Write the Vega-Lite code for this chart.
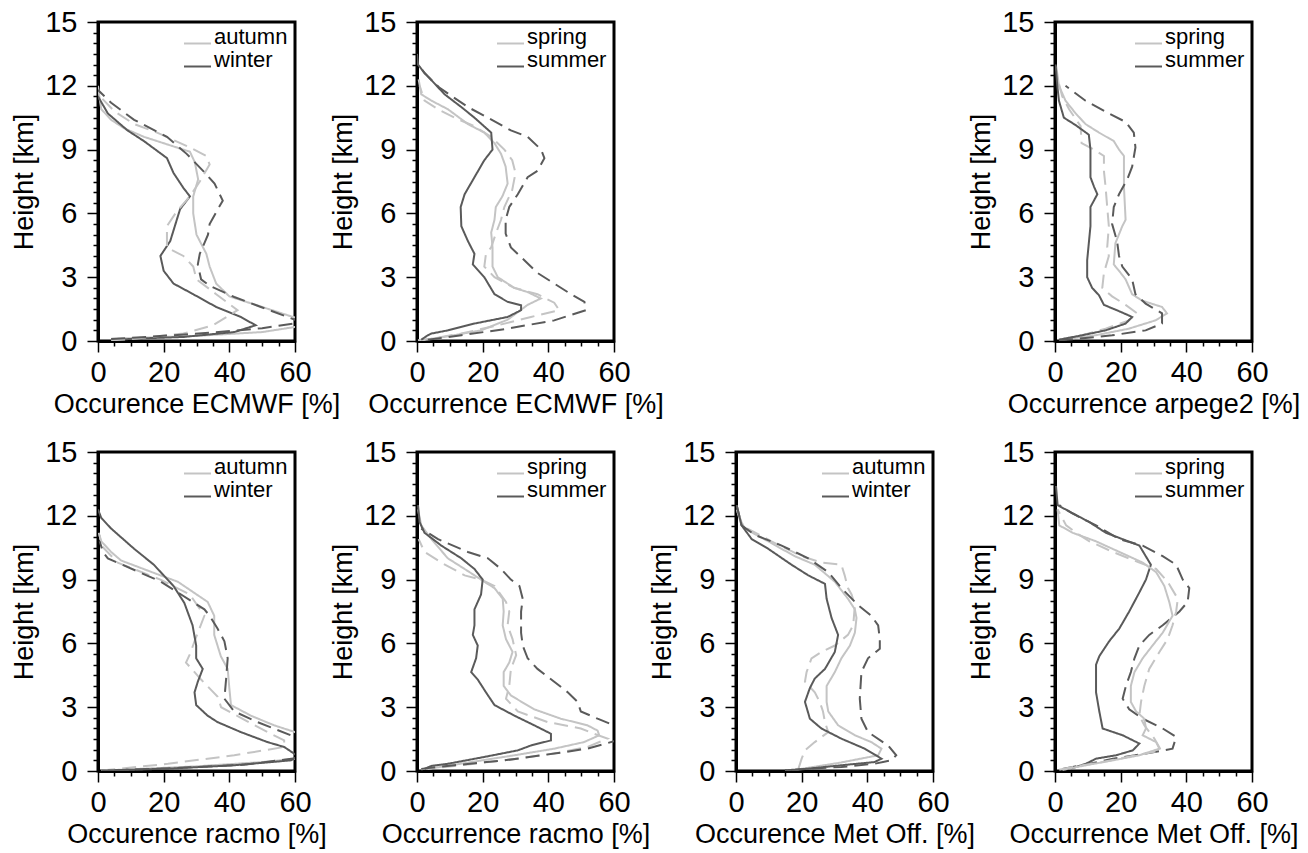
{
"$schema":"https://vega.github.io/schema/vega-lite/v6.json",
"background":"white",
"padding":{"left":9,"top":6,"right":0,"bottom":0},
"columns":4,
"bounds":"flush",
"spacing":{"row":111,"column":122},
"resolve":{"scale":{"color":"independent","strokeDash":"independent"},"legend":{"color":"independent"}},
"config":{
 "view":{"stroke":"black","strokeWidth":3},
 "axis":{"domainColor":"black","domainWidth":3,"tickColor":"black","tickWidth":1.5,"labelFont":"Liberation Sans","labelFontSize":29,"labelColor":"black","titleFont":"Liberation Sans","titleFontSize":27,"titleFontWeight":"normal","titleColor":"black","grid":false,"labelOverlap":false,"labelFlush":false,"format":"d"},
 "axisX":{"titlePadding":4,"labelPadding":6},
 "axisY":{"titlePadding":6,"labelPadding":10},
 "legend":{"orient":"top-right","offset":7,"padding":0,"title":null,"symbolType":"stroke","symbolSize":729,"symbolStrokeWidth":2,"labelFontSize":22,"labelFont":"Liberation Sans","labelColor":"black","labelOffset":2,"rowPadding":0,"labelBaseline":"alphabetic"}
},
"concat":[
{"width":197,"height":319,"data":{"name":"p1"},"mark":{"type":"line","clip":true,"strokeWidth":2},
 "encoding":{
  "x":{"field":"occ","type":"quantitative","scale":{"domain":[0,60],"nice":false,"zero":false},"axis":{"title":"Occurence ECMWF [%]","values":[0,5,10,15,20,25,30,35,40,45,50,55,60],"labelExpr":"datum.value % 20 === 0 ? datum.label : ''","tickSize":{"condition":{"test":"datum.value % 20 === 0","value":11},"value":5}}},
  "y":{"field":"km","type":"quantitative","scale":{"domain":[0,15],"nice":false,"zero":false},"axis":{"title":"Height [km]","values":[0,0.5,1,1.5,2,2.5,3,3.5,4,4.5,5,5.5,6,6.5,7,7.5,8,8.5,9,9.5,10,10.5,11,11.5,12,12.5,13,13.5,14,14.5,15],"labelExpr":"datum.value % 3 === 0 ? datum.label : ''","tickSize":{"condition":{"test":"datum.value % 3 === 0","value":11},"value":5}}},
  "color":{"field":"season","type":"nominal","scale":{"domain":["autumn","winter"],"range":["#c4c4c4","#5a5a5a"]}},
  "strokeDash":{"field":"source","type":"nominal","scale":{"domain":["model","obs"],"range":[[1,0],[14,7]]},"legend":null},
  "order":{"field":"km","type":"quantitative"}}},
{"width":197,"height":319,"data":{"name":"p2"},"mark":{"type":"line","clip":true,"strokeWidth":2},
 "encoding":{
  "x":{"field":"occ","type":"quantitative","scale":{"domain":[0,60],"nice":false,"zero":false},"axis":{"title":"Occurrence ECMWF [%]","values":[0,5,10,15,20,25,30,35,40,45,50,55,60],"labelExpr":"datum.value % 20 === 0 ? datum.label : ''","tickSize":{"condition":{"test":"datum.value % 20 === 0","value":11},"value":5}}},
  "y":{"field":"km","type":"quantitative","scale":{"domain":[0,15],"nice":false,"zero":false},"axis":{"title":"Height [km]","values":[0,0.5,1,1.5,2,2.5,3,3.5,4,4.5,5,5.5,6,6.5,7,7.5,8,8.5,9,9.5,10,10.5,11,11.5,12,12.5,13,13.5,14,14.5,15],"labelExpr":"datum.value % 3 === 0 ? datum.label : ''","tickSize":{"condition":{"test":"datum.value % 3 === 0","value":11},"value":5}}},
  "color":{"field":"season","type":"nominal","scale":{"domain":["spring","summer"],"range":["#c4c4c4","#5a5a5a"]}},
  "strokeDash":{"field":"source","type":"nominal","scale":{"domain":["model","obs"],"range":[[1,0],[14,7]]},"legend":null},
  "order":{"field":"km","type":"quantitative"}}},
{"width":197,"height":319,"data":{"values":[{"a":1}]},"mark":{"type":"point","opacity":0},"encoding":{},"view":{"stroke":null}},
{"width":197,"height":319,"data":{"name":"p4"},"mark":{"type":"line","clip":true,"strokeWidth":2},
 "encoding":{
  "x":{"field":"occ","type":"quantitative","scale":{"domain":[0,60],"nice":false,"zero":false},"axis":{"title":"Occurrence arpege2 [%]","values":[0,5,10,15,20,25,30,35,40,45,50,55,60],"labelExpr":"datum.value % 20 === 0 ? datum.label : ''","tickSize":{"condition":{"test":"datum.value % 20 === 0","value":11},"value":5}}},
  "y":{"field":"km","type":"quantitative","scale":{"domain":[0,15],"nice":false,"zero":false},"axis":{"title":"Height [km]","values":[0,0.5,1,1.5,2,2.5,3,3.5,4,4.5,5,5.5,6,6.5,7,7.5,8,8.5,9,9.5,10,10.5,11,11.5,12,12.5,13,13.5,14,14.5,15],"labelExpr":"datum.value % 3 === 0 ? datum.label : ''","tickSize":{"condition":{"test":"datum.value % 3 === 0","value":11},"value":5}}},
  "color":{"field":"season","type":"nominal","scale":{"domain":["spring","summer"],"range":["#c4c4c4","#5a5a5a"]}},
  "strokeDash":{"field":"source","type":"nominal","scale":{"domain":["model","obs"],"range":[[1,0],[14,7]]},"legend":null},
  "order":{"field":"km","type":"quantitative"}}},
{"width":197,"height":319,"data":{"name":"p5"},"mark":{"type":"line","clip":true,"strokeWidth":2},
 "encoding":{
  "x":{"field":"occ","type":"quantitative","scale":{"domain":[0,60],"nice":false,"zero":false},"axis":{"title":"Occurence racmo [%]","values":[0,5,10,15,20,25,30,35,40,45,50,55,60],"labelExpr":"datum.value % 20 === 0 ? datum.label : ''","tickSize":{"condition":{"test":"datum.value % 20 === 0","value":11},"value":5}}},
  "y":{"field":"km","type":"quantitative","scale":{"domain":[0,15],"nice":false,"zero":false},"axis":{"title":"Height [km]","values":[0,0.5,1,1.5,2,2.5,3,3.5,4,4.5,5,5.5,6,6.5,7,7.5,8,8.5,9,9.5,10,10.5,11,11.5,12,12.5,13,13.5,14,14.5,15],"labelExpr":"datum.value % 3 === 0 ? datum.label : ''","tickSize":{"condition":{"test":"datum.value % 3 === 0","value":11},"value":5}}},
  "color":{"field":"season","type":"nominal","scale":{"domain":["autumn","winter"],"range":["#c4c4c4","#5a5a5a"]}},
  "strokeDash":{"field":"source","type":"nominal","scale":{"domain":["model","obs"],"range":[[1,0],[14,7]]},"legend":null},
  "order":{"field":"km","type":"quantitative"}}},
{"width":197,"height":319,"data":{"name":"p6"},"mark":{"type":"line","clip":true,"strokeWidth":2},
 "encoding":{
  "x":{"field":"occ","type":"quantitative","scale":{"domain":[0,60],"nice":false,"zero":false},"axis":{"title":"Occurrence racmo [%]","values":[0,5,10,15,20,25,30,35,40,45,50,55,60],"labelExpr":"datum.value % 20 === 0 ? datum.label : ''","tickSize":{"condition":{"test":"datum.value % 20 === 0","value":11},"value":5}}},
  "y":{"field":"km","type":"quantitative","scale":{"domain":[0,15],"nice":false,"zero":false},"axis":{"title":"Height [km]","values":[0,0.5,1,1.5,2,2.5,3,3.5,4,4.5,5,5.5,6,6.5,7,7.5,8,8.5,9,9.5,10,10.5,11,11.5,12,12.5,13,13.5,14,14.5,15],"labelExpr":"datum.value % 3 === 0 ? datum.label : ''","tickSize":{"condition":{"test":"datum.value % 3 === 0","value":11},"value":5}}},
  "color":{"field":"season","type":"nominal","scale":{"domain":["spring","summer"],"range":["#c4c4c4","#5a5a5a"]}},
  "strokeDash":{"field":"source","type":"nominal","scale":{"domain":["model","obs"],"range":[[1,0],[14,7]]},"legend":null},
  "order":{"field":"km","type":"quantitative"}}},
{"width":197,"height":319,"data":{"name":"p7"},"mark":{"type":"line","clip":true,"strokeWidth":2},
 "encoding":{
  "x":{"field":"occ","type":"quantitative","scale":{"domain":[0,60],"nice":false,"zero":false},"axis":{"title":"Occurence Met Off. [%]","values":[0,5,10,15,20,25,30,35,40,45,50,55,60],"labelExpr":"datum.value % 20 === 0 ? datum.label : ''","tickSize":{"condition":{"test":"datum.value % 20 === 0","value":11},"value":5}}},
  "y":{"field":"km","type":"quantitative","scale":{"domain":[0,15],"nice":false,"zero":false},"axis":{"title":"Height [km]","values":[0,0.5,1,1.5,2,2.5,3,3.5,4,4.5,5,5.5,6,6.5,7,7.5,8,8.5,9,9.5,10,10.5,11,11.5,12,12.5,13,13.5,14,14.5,15],"labelExpr":"datum.value % 3 === 0 ? datum.label : ''","tickSize":{"condition":{"test":"datum.value % 3 === 0","value":11},"value":5}}},
  "color":{"field":"season","type":"nominal","scale":{"domain":["autumn","winter"],"range":["#c4c4c4","#5a5a5a"]}},
  "strokeDash":{"field":"source","type":"nominal","scale":{"domain":["model","obs"],"range":[[1,0],[14,7]]},"legend":null},
  "order":{"field":"km","type":"quantitative"}}},
{"width":197,"height":319,"data":{"name":"p8"},"mark":{"type":"line","clip":true,"strokeWidth":2},
 "encoding":{
  "x":{"field":"occ","type":"quantitative","scale":{"domain":[0,60],"nice":false,"zero":false},"axis":{"title":"Occurrence Met Off. [%]","values":[0,5,10,15,20,25,30,35,40,45,50,55,60],"labelExpr":"datum.value % 20 === 0 ? datum.label : ''","tickSize":{"condition":{"test":"datum.value % 20 === 0","value":11},"value":5}}},
  "y":{"field":"km","type":"quantitative","scale":{"domain":[0,15],"nice":false,"zero":false},"axis":{"title":"Height [km]","values":[0,0.5,1,1.5,2,2.5,3,3.5,4,4.5,5,5.5,6,6.5,7,7.5,8,8.5,9,9.5,10,10.5,11,11.5,12,12.5,13,13.5,14,14.5,15],"labelExpr":"datum.value % 3 === 0 ? datum.label : ''","tickSize":{"condition":{"test":"datum.value % 3 === 0","value":11},"value":5}}},
  "color":{"field":"season","type":"nominal","scale":{"domain":["spring","summer"],"range":["#c4c4c4","#5a5a5a"]}},
  "strokeDash":{"field":"source","type":"nominal","scale":{"domain":["model","obs"],"range":[[1,0],[14,7]]},"legend":null},
  "order":{"field":"km","type":"quantitative"}}}
],
"datasets":{
"p1":[
{"season":"autumn","source":"model","occ":0,"km":12.0},{"season":"autumn","source":"model","occ":0.5,"km":11.4},{"season":"autumn","source":"model","occ":1,"km":10.9},{"season":"autumn","source":"model","occ":4,"km":10.4},{"season":"autumn","source":"model","occ":8,"km":10.0},{"season":"autumn","source":"model","occ":14,"km":9.6},{"season":"autumn","source":"model","occ":22,"km":9.2},{"season":"autumn","source":"model","occ":28,"km":8.9},{"season":"autumn","source":"model","occ":29.5,"km":8.4},{"season":"autumn","source":"model","occ":30.5,"km":7.6},{"season":"autumn","source":"model","occ":29,"km":6.8},{"season":"autumn","source":"model","occ":29,"km":6.0},{"season":"autumn","source":"model","occ":30,"km":5.0},{"season":"autumn","source":"model","occ":33,"km":4.1},{"season":"autumn","source":"model","occ":34,"km":3.5},{"season":"autumn","source":"model","occ":36,"km":2.7},{"season":"autumn","source":"model","occ":40,"km":2.1},{"season":"autumn","source":"model","occ":50,"km":1.6},{"season":"autumn","source":"model","occ":60,"km":1.1},{"season":"autumn","source":"model","occ":66,"km":0.85},{"season":"autumn","source":"model","occ":60,"km":0.66},{"season":"autumn","source":"model","occ":50,"km":0.42},{"season":"autumn","source":"model","occ":31,"km":0.25},{"season":"autumn","source":"model","occ":4,"km":0.1},
{"season":"winter","source":"model","occ":0,"km":11.5},{"season":"winter","source":"model","occ":3,"km":10.7},{"season":"winter","source":"model","occ":9,"km":9.9},{"season":"winter","source":"model","occ":14,"km":9.4},{"season":"winter","source":"model","occ":21,"km":8.6},{"season":"winter","source":"model","occ":23,"km":7.9},{"season":"winter","source":"model","occ":26,"km":7.2},{"season":"winter","source":"model","occ":28,"km":6.8},{"season":"winter","source":"model","occ":25,"km":6.2},{"season":"winter","source":"model","occ":23,"km":5.2},{"season":"winter","source":"model","occ":22,"km":4.7},{"season":"winter","source":"model","occ":19,"km":4.0},{"season":"winter","source":"model","occ":20,"km":3.3},{"season":"winter","source":"model","occ":23,"km":2.7},{"season":"winter","source":"model","occ":29,"km":2.2},{"season":"winter","source":"model","occ":36,"km":1.6},{"season":"winter","source":"model","occ":43.5,"km":1.13},{"season":"winter","source":"model","occ":48,"km":0.74},{"season":"winter","source":"model","occ":41.5,"km":0.42},{"season":"winter","source":"model","occ":26,"km":0.19},{"season":"winter","source":"model","occ":11,"km":0.11},{"season":"winter","source":"model","occ":4,"km":0.03},
{"season":"autumn","source":"obs","occ":0,"km":11.6},{"season":"autumn","source":"obs","occ":5,"km":10.8},{"season":"autumn","source":"obs","occ":11,"km":10.2},{"season":"autumn","source":"obs","occ":18,"km":9.8},{"season":"autumn","source":"obs","occ":28,"km":9.1},{"season":"autumn","source":"obs","occ":33,"km":8.7},{"season":"autumn","source":"obs","occ":34,"km":8.3},{"season":"autumn","source":"obs","occ":31,"km":7.5},{"season":"autumn","source":"obs","occ":28,"km":6.8},{"season":"autumn","source":"obs","occ":24,"km":6.1},{"season":"autumn","source":"obs","occ":21,"km":5.4},{"season":"autumn","source":"obs","occ":21,"km":4.4},{"season":"autumn","source":"obs","occ":26,"km":4.0},{"season":"autumn","source":"obs","occ":29,"km":3.5},{"season":"autumn","source":"obs","occ":30,"km":2.9},{"season":"autumn","source":"obs","occ":36,"km":2.2},{"season":"autumn","source":"obs","occ":42.5,"km":1.45},{"season":"autumn","source":"obs","occ":35,"km":0.74},{"season":"autumn","source":"obs","occ":26,"km":0.35},{"season":"autumn","source":"obs","occ":11,"km":0.1},{"season":"autumn","source":"obs","occ":4,"km":0.03},
{"season":"winter","source":"obs","occ":0,"km":11.8},{"season":"winter","source":"obs","occ":4,"km":11.2},{"season":"winter","source":"obs","occ":11,"km":10.4},{"season":"winter","source":"obs","occ":21,"km":9.6},{"season":"winter","source":"obs","occ":27,"km":8.8},{"season":"winter","source":"obs","occ":32,"km":8.0},{"season":"winter","source":"obs","occ":35.5,"km":7.4},{"season":"winter","source":"obs","occ":38,"km":6.6},{"season":"winter","source":"obs","occ":36.5,"km":6.2},{"season":"winter","source":"obs","occ":34,"km":5.5},{"season":"winter","source":"obs","occ":33.5,"km":5.0},{"season":"winter","source":"obs","occ":31,"km":4.1},{"season":"winter","source":"obs","occ":30.4,"km":3.6},{"season":"winter","source":"obs","occ":31.4,"km":2.9},{"season":"winter","source":"obs","occ":34,"km":2.6},{"season":"winter","source":"obs","occ":41.5,"km":2.07},{"season":"winter","source":"obs","occ":49.6,"km":1.6},{"season":"winter","source":"obs","occ":60,"km":1.0},{"season":"winter","source":"obs","occ":62,"km":0.88},{"season":"winter","source":"obs","occ":50,"km":0.6},{"season":"winter","source":"obs","occ":35,"km":0.4},{"season":"winter","source":"obs","occ":16,"km":0.2},{"season":"winter","source":"obs","occ":4,"km":0.09}
],
"p2":[
{"season":"spring","source":"model","occ":0.5,"km":12.3},{"season":"spring","source":"model","occ":1.3,"km":11.6},{"season":"spring","source":"model","occ":4.4,"km":11.3},{"season":"spring","source":"model","occ":9.4,"km":10.9},{"season":"spring","source":"model","occ":15.5,"km":10.2},{"season":"spring","source":"model","occ":20.5,"km":9.8},{"season":"spring","source":"model","occ":23.6,"km":9.3},{"season":"spring","source":"model","occ":25.6,"km":8.8},{"season":"spring","source":"model","occ":27,"km":8.2},{"season":"spring","source":"model","occ":27.6,"km":7.4},{"season":"spring","source":"model","occ":26,"km":6.8},{"season":"spring","source":"model","occ":24,"km":6.3},{"season":"spring","source":"model","occ":23.6,"km":5.7},{"season":"spring","source":"model","occ":22.6,"km":5.1},{"season":"spring","source":"model","occ":23,"km":4.4},{"season":"spring","source":"model","occ":23,"km":3.5},{"season":"spring","source":"model","occ":24.6,"km":3.0},{"season":"spring","source":"model","occ":29.6,"km":2.5},{"season":"spring","source":"model","occ":33.7,"km":2.3},{"season":"spring","source":"model","occ":37.7,"km":2.0},{"season":"spring","source":"model","occ":33.7,"km":1.7},{"season":"spring","source":"model","occ":27.6,"km":1.0},{"season":"spring","source":"model","occ":19.5,"km":0.5},{"season":"spring","source":"model","occ":9.4,"km":0.22},{"season":"spring","source":"model","occ":1.3,"km":0.03},
{"season":"spring","source":"obs","occ":0.8,"km":12.0},{"season":"spring","source":"obs","occ":2.3,"km":11.3},{"season":"spring","source":"obs","occ":6.4,"km":10.9},{"season":"spring","source":"obs","occ":11.4,"km":10.5},{"season":"spring","source":"obs","occ":17.5,"km":10.1},{"season":"spring","source":"obs","occ":22.6,"km":9.6},{"season":"spring","source":"obs","occ":26.6,"km":9.0},{"season":"spring","source":"obs","occ":29,"km":8.5},{"season":"spring","source":"obs","occ":30,"km":7.9},{"season":"spring","source":"obs","occ":29,"km":7.1},{"season":"spring","source":"obs","occ":26.6,"km":6.3},{"season":"spring","source":"obs","occ":25.6,"km":5.7},{"season":"spring","source":"obs","occ":24,"km":5.05},{"season":"spring","source":"obs","occ":22.6,"km":4.4},{"season":"spring","source":"obs","occ":21,"km":4.1},{"season":"spring","source":"obs","occ":20.5,"km":3.5},{"season":"spring","source":"obs","occ":23.6,"km":3.0},{"season":"spring","source":"obs","occ":29.6,"km":2.5},{"season":"spring","source":"obs","occ":36.7,"km":2.2},{"season":"spring","source":"obs","occ":41.8,"km":1.8},{"season":"spring","source":"obs","occ":43.3,"km":1.45},{"season":"spring","source":"obs","occ":34.7,"km":1.13},{"season":"spring","source":"obs","occ":24.6,"km":0.74},{"season":"spring","source":"obs","occ":13.5,"km":0.35},{"season":"spring","source":"obs","occ":4.4,"km":0.11},{"season":"spring","source":"obs","occ":0.3,"km":0.03},
{"season":"summer","source":"model","occ":0,"km":13.5},{"season":"summer","source":"model","occ":0.3,"km":13.0},{"season":"summer","source":"model","occ":2.3,"km":12.6},{"season":"summer","source":"model","occ":5.4,"km":12.1},{"season":"summer","source":"model","occ":8.4,"km":11.6},{"season":"summer","source":"model","occ":13.5,"km":11.0},{"season":"summer","source":"model","occ":17.5,"km":10.5},{"season":"summer","source":"model","occ":22.6,"km":9.8},{"season":"summer","source":"model","occ":23,"km":9.0},{"season":"summer","source":"model","occ":20.5,"km":8.5},{"season":"summer","source":"model","occ":17.5,"km":7.7},{"season":"summer","source":"model","occ":14.5,"km":6.9},{"season":"summer","source":"model","occ":13.3,"km":6.3},{"season":"summer","source":"model","occ":13.5,"km":5.4},{"season":"summer","source":"model","occ":15.5,"km":4.7},{"season":"summer","source":"model","occ":17.5,"km":4.1},{"season":"summer","source":"model","occ":17,"km":3.6},{"season":"summer","source":"model","occ":20.5,"km":3.0},{"season":"summer","source":"model","occ":23.6,"km":2.2},{"season":"summer","source":"model","occ":27.6,"km":1.84},{"season":"summer","source":"model","occ":31.7,"km":1.68},{"season":"summer","source":"model","occ":31.7,"km":1.45},{"season":"summer","source":"model","occ":27.6,"km":1.13},{"season":"summer","source":"model","occ":17.5,"km":0.82},{"season":"summer","source":"model","occ":9.4,"km":0.5},{"season":"summer","source":"model","occ":4.4,"km":0.35},{"season":"summer","source":"model","occ":3.3,"km":0.27},{"season":"summer","source":"model","occ":1.3,"km":0.06},
{"season":"summer","source":"obs","occ":0.3,"km":13.0},{"season":"summer","source":"obs","occ":2.3,"km":12.6},{"season":"summer","source":"obs","occ":6.9,"km":11.9},{"season":"summer","source":"obs","occ":15.5,"km":11.0},{"season":"summer","source":"obs","occ":21.6,"km":10.5},{"season":"summer","source":"obs","occ":28.6,"km":9.9},{"season":"summer","source":"obs","occ":33.7,"km":9.6},{"season":"summer","source":"obs","occ":37.8,"km":9.0},{"season":"summer","source":"obs","occ":38.8,"km":8.6},{"season":"summer","source":"obs","occ":36.7,"km":8.0},{"season":"summer","source":"obs","occ":33.7,"km":7.7},{"season":"summer","source":"obs","occ":30.7,"km":6.9},{"season":"summer","source":"obs","occ":28.1,"km":6.3},{"season":"summer","source":"obs","occ":27,"km":5.7},{"season":"summer","source":"obs","occ":27,"km":5.05},{"season":"summer","source":"obs","occ":28.6,"km":4.4},{"season":"summer","source":"obs","occ":32.7,"km":3.8},{"season":"summer","source":"obs","occ":36.7,"km":3.2},{"season":"summer","source":"obs","occ":41.8,"km":2.7},{"season":"summer","source":"obs","occ":46.9,"km":2.2},{"season":"summer","source":"obs","occ":51,"km":1.84},{"season":"summer","source":"obs","occ":51.4,"km":1.45},{"season":"summer","source":"obs","occ":41.8,"km":0.97},{"season":"summer","source":"obs","occ":27.6,"km":0.58},{"season":"summer","source":"obs","occ":13.5,"km":0.27},{"season":"summer","source":"obs","occ":3.3,"km":0.06}
],
"p4":[
{"season":"spring","source":"model","occ":0.4,"km":12.9},{"season":"spring","source":"model","occ":1.2,"km":12.0},{"season":"spring","source":"model","occ":3.2,"km":11.3},{"season":"spring","source":"model","occ":6.3,"km":10.7},{"season":"spring","source":"model","occ":9.3,"km":10.2},{"season":"spring","source":"model","occ":13.4,"km":9.8},{"season":"spring","source":"model","occ":17.9,"km":9.4},{"season":"spring","source":"model","occ":19.5,"km":9.0},{"season":"spring","source":"model","occ":21,"km":8.7},{"season":"spring","source":"model","occ":21,"km":7.25},{"season":"spring","source":"model","occ":21.5,"km":5.7},{"season":"spring","source":"model","occ":20.5,"km":5.4},{"season":"spring","source":"model","occ":18.4,"km":4.6},{"season":"spring","source":"model","occ":17.9,"km":3.6},{"season":"spring","source":"model","occ":19.5,"km":3.3},{"season":"spring","source":"model","occ":21.5,"km":2.9},{"season":"spring","source":"model","occ":23.5,"km":2.2},{"season":"spring","source":"model","occ":26.5,"km":1.9},{"season":"spring","source":"model","occ":32.6,"km":1.6},{"season":"spring","source":"model","occ":34.1,"km":1.3},{"season":"spring","source":"model","occ":30.6,"km":0.97},{"season":"spring","source":"model","occ":22.5,"km":0.58},{"season":"spring","source":"model","occ":12.4,"km":0.27},{"season":"spring","source":"model","occ":2.2,"km":0.06},
{"season":"spring","source":"obs","occ":0.7,"km":12.4},{"season":"spring","source":"obs","occ":2.2,"km":11.5},{"season":"spring","source":"obs","occ":4.3,"km":10.9},{"season":"spring","source":"obs","occ":7.8,"km":10.1},{"season":"spring","source":"obs","occ":8.1,"km":9.3},{"season":"spring","source":"obs","occ":11.3,"km":9.05},{"season":"spring","source":"obs","occ":14.9,"km":8.7},{"season":"spring","source":"obs","occ":14.9,"km":8.0},{"season":"spring","source":"obs","occ":15.4,"km":7.25},{"season":"spring","source":"obs","occ":15.9,"km":6.3},{"season":"spring","source":"obs","occ":16.4,"km":5.4},{"season":"spring","source":"obs","occ":15.9,"km":4.4},{"season":"spring","source":"obs","occ":16.4,"km":4.0},{"season":"spring","source":"obs","occ":14.9,"km":3.2},{"season":"spring","source":"obs","occ":14.4,"km":2.5},{"season":"spring","source":"obs","occ":17.4,"km":2.1},{"season":"spring","source":"obs","occ":21.5,"km":1.7},{"season":"spring","source":"obs","occ":25,"km":1.3},{"season":"spring","source":"obs","occ":22.5,"km":0.97},{"season":"spring","source":"obs","occ":15.4,"km":0.58},{"season":"spring","source":"obs","occ":8.3,"km":0.27},{"season":"spring","source":"obs","occ":1.2,"km":0.06},
{"season":"summer","source":"model","occ":0.2,"km":13.0},{"season":"summer","source":"model","occ":0.7,"km":12.0},{"season":"summer","source":"model","occ":1.2,"km":11.3},{"season":"summer","source":"model","occ":2.7,"km":10.5},{"season":"summer","source":"model","occ":6.3,"km":10.15},{"season":"summer","source":"model","occ":10.3,"km":9.7},{"season":"summer","source":"model","occ":10.8,"km":9.0},{"season":"summer","source":"model","occ":10.8,"km":7.7},{"season":"summer","source":"model","occ":11.9,"km":7.25},{"season":"summer","source":"model","occ":12.9,"km":6.9},{"season":"summer","source":"model","occ":10.8,"km":6.3},{"season":"summer","source":"model","occ":10.8,"km":5.4},{"season":"summer","source":"model","occ":10.3,"km":4.6},{"season":"summer","source":"model","occ":9.8,"km":3.8},{"season":"summer","source":"model","occ":9.8,"km":3.0},{"season":"summer","source":"model","occ":11.3,"km":2.5},{"season":"summer","source":"model","occ":13.4,"km":2.15},{"season":"summer","source":"model","occ":14.9,"km":1.7},{"season":"summer","source":"model","occ":20,"km":1.37},{"season":"summer","source":"model","occ":23.5,"km":1.13},{"season":"summer","source":"model","occ":21.5,"km":0.82},{"season":"summer","source":"model","occ":15.4,"km":0.5},{"season":"summer","source":"model","occ":8.3,"km":0.27},{"season":"summer","source":"model","occ":1.2,"km":0.06},
{"season":"summer","source":"obs","occ":3.2,"km":12.0},{"season":"summer","source":"obs","occ":9.3,"km":11.3},{"season":"summer","source":"obs","occ":16.4,"km":10.7},{"season":"summer","source":"obs","occ":21.5,"km":10.3},{"season":"summer","source":"obs","occ":24,"km":9.8},{"season":"summer","source":"obs","occ":24.5,"km":9.1},{"season":"summer","source":"obs","occ":23.5,"km":8.2},{"season":"summer","source":"obs","occ":22,"km":7.6},{"season":"summer","source":"obs","occ":19.5,"km":6.9},{"season":"summer","source":"obs","occ":17.9,"km":6.3},{"season":"summer","source":"obs","occ":17.4,"km":5.5},{"season":"summer","source":"obs","occ":18.9,"km":4.7},{"season":"summer","source":"obs","occ":19.5,"km":4.0},{"season":"summer","source":"obs","occ":20.5,"km":3.5},{"season":"summer","source":"obs","occ":23.5,"km":2.9},{"season":"summer","source":"obs","occ":24.5,"km":2.2},{"season":"summer","source":"obs","occ":27.6,"km":1.76},{"season":"summer","source":"obs","occ":32.6,"km":1.3},{"season":"summer","source":"obs","occ":32.6,"km":0.82},{"season":"summer","source":"obs","occ":27.6,"km":0.5},{"season":"summer","source":"obs","occ":17.4,"km":0.27},{"season":"summer","source":"obs","occ":7.3,"km":0.11},{"season":"summer","source":"obs","occ":1.2,"km":0.03}
],
"p5":[
{"season":"autumn","source":"model","occ":0.2,"km":11.2},{"season":"autumn","source":"model","occ":1,"km":10.8},{"season":"autumn","source":"model","occ":4,"km":10.3},{"season":"autumn","source":"model","occ":7,"km":9.9},{"season":"autumn","source":"model","occ":19,"km":9.2},{"season":"autumn","source":"model","occ":24.3,"km":8.9},{"season":"autumn","source":"model","occ":33.4,"km":7.95},{"season":"autumn","source":"model","occ":35.4,"km":7.3},{"season":"autumn","source":"model","occ":35.4,"km":6.4},{"season":"autumn","source":"model","occ":37.4,"km":5.4},{"season":"autumn","source":"model","occ":39.5,"km":4.8},{"season":"autumn","source":"model","occ":40,"km":3.9},{"season":"autumn","source":"model","occ":40.5,"km":3.1},{"season":"autumn","source":"model","occ":46.6,"km":2.6},{"season":"autumn","source":"model","occ":53.6,"km":2.15},{"season":"autumn","source":"model","occ":60,"km":1.83},{"season":"autumn","source":"model","occ":68,"km":1.2},{"season":"autumn","source":"model","occ":62,"km":0.6},{"season":"autumn","source":"model","occ":50,"km":0.42},{"season":"autumn","source":"model","occ":30,"km":0.22},{"season":"autumn","source":"model","occ":10,"km":0.08},{"season":"autumn","source":"model","occ":1,"km":0.02},
{"season":"autumn","source":"obs","occ":0.5,"km":11.1},{"season":"autumn","source":"obs","occ":1,"km":10.6},{"season":"autumn","source":"obs","occ":6,"km":9.8},{"season":"autumn","source":"obs","occ":19,"km":9.0},{"season":"autumn","source":"obs","occ":28,"km":8.3},{"season":"autumn","source":"obs","occ":32.4,"km":7.3},{"season":"autumn","source":"obs","occ":30.4,"km":6.5},{"season":"autumn","source":"obs","occ":29.4,"km":6.1},{"season":"autumn","source":"obs","occ":28,"km":5.5},{"season":"autumn","source":"obs","occ":26.8,"km":5.1},{"season":"autumn","source":"obs","occ":31.4,"km":4.3},{"season":"autumn","source":"obs","occ":36.4,"km":3.5},{"season":"autumn","source":"obs","occ":37.5,"km":3.0},{"season":"autumn","source":"obs","occ":43.5,"km":2.5},{"season":"autumn","source":"obs","occ":51.6,"km":1.83},{"season":"autumn","source":"obs","occ":56.7,"km":1.44},{"season":"autumn","source":"obs","occ":56.7,"km":1.13},{"season":"autumn","source":"obs","occ":41.5,"km":0.74},{"season":"autumn","source":"obs","occ":21.3,"km":0.34},{"season":"autumn","source":"obs","occ":1,"km":0.02},
{"season":"winter","source":"model","occ":0,"km":12.3},{"season":"winter","source":"model","occ":1,"km":11.9},{"season":"winter","source":"model","occ":4,"km":11.4},{"season":"winter","source":"model","occ":11,"km":10.45},{"season":"winter","source":"model","occ":17,"km":9.7},{"season":"winter","source":"model","occ":23,"km":8.7},{"season":"winter","source":"model","occ":26.3,"km":7.9},{"season":"winter","source":"model","occ":28.8,"km":6.85},{"season":"winter","source":"model","occ":29.9,"km":5.9},{"season":"winter","source":"model","occ":29.9,"km":5.3},{"season":"winter","source":"model","occ":31.9,"km":4.8},{"season":"winter","source":"model","occ":30.4,"km":4.2},{"season":"winter","source":"model","occ":29.4,"km":3.7},{"season":"winter","source":"model","occ":29.9,"km":3.1},{"season":"winter","source":"model","occ":33.4,"km":2.6},{"season":"winter","source":"model","occ":36.4,"km":2.3},{"season":"winter","source":"model","occ":43.5,"km":1.83},{"season":"winter","source":"model","occ":51.6,"km":1.36},{"season":"winter","source":"model","occ":56.7,"km":1.13},{"season":"winter","source":"model","occ":59.7,"km":0.82},{"season":"winter","source":"model","occ":61,"km":0.7},{"season":"winter","source":"model","occ":58.7,"km":0.5},{"season":"winter","source":"model","occ":41.5,"km":0.27},{"season":"winter","source":"model","occ":21.3,"km":0.11},{"season":"winter","source":"model","occ":1,"km":0.02},
{"season":"winter","source":"obs","occ":0.5,"km":10.8},{"season":"winter","source":"obs","occ":1.5,"km":10.3},{"season":"winter","source":"obs","occ":3,"km":10.0},{"season":"winter","source":"obs","occ":19.2,"km":8.9},{"season":"winter","source":"obs","occ":25.3,"km":8.3},{"season":"winter","source":"obs","occ":32.4,"km":7.6},{"season":"winter","source":"obs","occ":34,"km":7.3},{"season":"winter","source":"obs","occ":36.4,"km":6.7},{"season":"winter","source":"obs","occ":38.5,"km":6.1},{"season":"winter","source":"obs","occ":39.5,"km":5.3},{"season":"winter","source":"obs","occ":39,"km":4.3},{"season":"winter","source":"obs","occ":38.5,"km":3.4},{"season":"winter","source":"obs","occ":41.5,"km":2.8},{"season":"winter","source":"obs","occ":48.6,"km":2.3},{"season":"winter","source":"obs","occ":60,"km":1.6},{"season":"winter","source":"obs","occ":66,"km":1.0},{"season":"winter","source":"obs","occ":60,"km":0.6},{"season":"winter","source":"obs","occ":45,"km":0.3},{"season":"winter","source":"obs","occ":25,"km":0.15},{"season":"winter","source":"obs","occ":5,"km":0.03}
],
"p6":[
{"season":"spring","source":"model","occ":0.3,"km":12.3},{"season":"spring","source":"model","occ":1.3,"km":11.55},{"season":"spring","source":"model","occ":4.4,"km":10.9},{"season":"spring","source":"model","occ":9.4,"km":10.0},{"season":"spring","source":"model","occ":14.5,"km":9.5},{"season":"spring","source":"model","occ":20.5,"km":8.9},{"season":"spring","source":"model","occ":23.6,"km":8.6},{"season":"spring","source":"model","occ":26.1,"km":8.1},{"season":"spring","source":"model","occ":26.4,"km":7.5},{"season":"spring","source":"model","occ":26.1,"km":6.85},{"season":"spring","source":"model","occ":27.1,"km":6.2},{"season":"spring","source":"model","occ":29.1,"km":5.6},{"season":"spring","source":"model","occ":28.1,"km":5.1},{"season":"spring","source":"model","occ":26.4,"km":4.65},{"season":"spring","source":"model","occ":26.4,"km":4.0},{"season":"spring","source":"model","occ":28.6,"km":3.55},{"season":"spring","source":"model","occ":35.7,"km":2.9},{"season":"spring","source":"model","occ":43.8,"km":2.46},{"season":"spring","source":"model","occ":51.9,"km":2.15},{"season":"spring","source":"model","occ":55,"km":1.9},{"season":"spring","source":"model","occ":55.5,"km":1.68},{"season":"spring","source":"model","occ":50.9,"km":1.36},{"season":"spring","source":"model","occ":41.8,"km":1.05},{"season":"spring","source":"model","occ":29.7,"km":0.74},{"season":"spring","source":"model","occ":16.5,"km":0.42},{"season":"spring","source":"model","occ":3.3,"km":0.1},
{"season":"spring","source":"obs","occ":0.5,"km":10.9},{"season":"spring","source":"obs","occ":2.3,"km":10.3},{"season":"spring","source":"obs","occ":7.4,"km":9.8},{"season":"spring","source":"obs","occ":14.5,"km":9.2},{"season":"spring","source":"obs","occ":19.5,"km":9.0},{"season":"spring","source":"obs","occ":23.6,"km":8.7},{"season":"spring","source":"obs","occ":27.1,"km":7.95},{"season":"spring","source":"obs","occ":28.1,"km":7.5},{"season":"spring","source":"obs","occ":27.6,"km":6.85},{"season":"spring","source":"obs","occ":29.1,"km":6.2},{"season":"spring","source":"obs","occ":30.2,"km":5.45},{"season":"spring","source":"obs","occ":28.6,"km":4.8},{"season":"spring","source":"obs","occ":28.1,"km":4.0},{"season":"spring","source":"obs","occ":27.1,"km":3.4},{"season":"spring","source":"obs","occ":30.7,"km":2.8},{"season":"spring","source":"obs","occ":39.8,"km":2.3},{"season":"spring","source":"obs","occ":49.9,"km":2.0},{"season":"spring","source":"obs","occ":53.9,"km":1.75},{"season":"spring","source":"obs","occ":58,"km":1.52},{"season":"spring","source":"obs","occ":51.9,"km":1.13},{"season":"spring","source":"obs","occ":41.8,"km":0.82},{"season":"spring","source":"obs","occ":26.6,"km":0.5},{"season":"spring","source":"obs","occ":11.4,"km":0.24},{"season":"spring","source":"obs","occ":1.3,"km":0.08},
{"season":"summer","source":"model","occ":0.3,"km":12.5},{"season":"summer","source":"model","occ":0.8,"km":11.7},{"season":"summer","source":"model","occ":2.3,"km":11.2},{"season":"summer","source":"model","occ":7.4,"km":10.6},{"season":"summer","source":"model","occ":13.5,"km":10.0},{"season":"summer","source":"model","occ":17.5,"km":9.5},{"season":"summer","source":"model","occ":20,"km":9.0},{"season":"summer","source":"model","occ":19.5,"km":8.3},{"season":"summer","source":"model","occ":17.5,"km":7.6},{"season":"summer","source":"model","occ":17.5,"km":6.85},{"season":"summer","source":"model","occ":17,"km":6.4},{"season":"summer","source":"model","occ":18.5,"km":5.9},{"season":"summer","source":"model","occ":18,"km":5.3},{"season":"summer","source":"model","occ":16.5,"km":4.65},{"season":"summer","source":"model","occ":18.5,"km":4.3},{"season":"summer","source":"model","occ":21,"km":3.7},{"season":"summer","source":"model","occ":23.6,"km":3.1},{"season":"summer","source":"model","occ":29.7,"km":2.6},{"season":"summer","source":"model","occ":35.7,"km":2.15},{"season":"summer","source":"model","occ":40.8,"km":1.75},{"season":"summer","source":"model","occ":40.8,"km":1.44},{"season":"summer","source":"model","occ":34.7,"km":1.2},{"season":"summer","source":"model","occ":30.7,"km":0.97},{"season":"summer","source":"model","occ":20.5,"km":0.66},{"season":"summer","source":"model","occ":9.4,"km":0.34},{"season":"summer","source":"model","occ":4.4,"km":0.24},{"season":"summer","source":"model","occ":2.3,"km":0.1},
{"season":"summer","source":"obs","occ":1.3,"km":11.4},{"season":"summer","source":"obs","occ":6.4,"km":10.9},{"season":"summer","source":"obs","occ":15.5,"km":10.3},{"season":"summer","source":"obs","occ":21.6,"km":10.0},{"season":"summer","source":"obs","occ":25.6,"km":9.5},{"season":"summer","source":"obs","occ":28.6,"km":9.0},{"season":"summer","source":"obs","occ":31.2,"km":8.7},{"season":"summer","source":"obs","occ":32.2,"km":8.1},{"season":"summer","source":"obs","occ":31.7,"km":7.5},{"season":"summer","source":"obs","occ":31.7,"km":6.5},{"season":"summer","source":"obs","occ":32.2,"km":5.9},{"season":"summer","source":"obs","occ":33.7,"km":5.3},{"season":"summer","source":"obs","occ":36.7,"km":4.8},{"season":"summer","source":"obs","occ":41.8,"km":4.2},{"season":"summer","source":"obs","occ":45.9,"km":3.7},{"season":"summer","source":"obs","occ":48.9,"km":3.25},{"season":"summer","source":"obs","occ":49.9,"km":2.8},{"season":"summer","source":"obs","occ":55,"km":2.46},{"season":"summer","source":"obs","occ":60,"km":2.15},{"season":"summer","source":"obs","occ":64,"km":1.8},{"season":"summer","source":"obs","occ":60,"km":1.4},{"season":"summer","source":"obs","occ":51.9,"km":1.05},{"season":"summer","source":"obs","occ":41.8,"km":0.82},{"season":"summer","source":"obs","occ":26.6,"km":0.5},{"season":"summer","source":"obs","occ":11.4,"km":0.27},{"season":"summer","source":"obs","occ":1.3,"km":0.1}
],
"p7":[
{"season":"autumn","source":"model","occ":0.2,"km":12.3},{"season":"autumn","source":"model","occ":1.7,"km":11.7},{"season":"autumn","source":"model","occ":2.7,"km":11.4},{"season":"autumn","source":"model","occ":9.8,"km":10.8},{"season":"autumn","source":"model","occ":17.9,"km":10.1},{"season":"autumn","source":"model","occ":24,"km":9.7},{"season":"autumn","source":"model","occ":30.1,"km":8.9},{"season":"autumn","source":"model","occ":34.1,"km":8.1},{"season":"autumn","source":"model","occ":36.2,"km":7.6},{"season":"autumn","source":"model","occ":36.7,"km":7.2},{"season":"autumn","source":"model","occ":36.2,"km":6.5},{"season":"autumn","source":"model","occ":34.7,"km":5.9},{"season":"autumn","source":"model","occ":32.1,"km":5.3},{"season":"autumn","source":"model","occ":30.1,"km":4.65},{"season":"autumn","source":"model","occ":27.6,"km":4.0},{"season":"autumn","source":"model","occ":27.6,"km":3.25},{"season":"autumn","source":"model","occ":28.1,"km":2.8},{"season":"autumn","source":"model","occ":31.1,"km":2.15},{"season":"autumn","source":"model","occ":36.2,"km":1.68},{"season":"autumn","source":"model","occ":41.2,"km":1.36},{"season":"autumn","source":"model","occ":44.3,"km":1.05},{"season":"autumn","source":"model","occ":43.3,"km":0.74},{"season":"autumn","source":"model","occ":32,"km":0.4},{"season":"autumn","source":"model","occ":22,"km":0.15},{"season":"autumn","source":"model","occ":17,"km":0.03},
{"season":"autumn","source":"obs","occ":0.2,"km":12.3},{"season":"autumn","source":"obs","occ":1.7,"km":11.55},{"season":"autumn","source":"obs","occ":10.8,"km":10.8},{"season":"autumn","source":"obs","occ":20,"km":10.1},{"season":"autumn","source":"obs","occ":26,"km":9.8},{"season":"autumn","source":"obs","occ":32.1,"km":9.7},{"season":"autumn","source":"obs","occ":33.1,"km":9.2},{"season":"autumn","source":"obs","occ":34.1,"km":8.6},{"season":"autumn","source":"obs","occ":35.2,"km":8.3},{"season":"autumn","source":"obs","occ":36.2,"km":7.8},{"season":"autumn","source":"obs","occ":35.7,"km":6.85},{"season":"autumn","source":"obs","occ":34.1,"km":6.4},{"season":"autumn","source":"obs","occ":30.1,"km":5.9},{"season":"autumn","source":"obs","occ":26,"km":5.6},{"season":"autumn","source":"obs","occ":23,"km":5.3},{"season":"autumn","source":"obs","occ":21.5,"km":4.65},{"season":"autumn","source":"obs","occ":21,"km":4.2},{"season":"autumn","source":"obs","occ":24,"km":3.7},{"season":"autumn","source":"obs","occ":25.5,"km":3.25},{"season":"autumn","source":"obs","occ":26.5,"km":2.8},{"season":"autumn","source":"obs","occ":27.1,"km":2.3},{"season":"autumn","source":"obs","occ":28.1,"km":1.83},{"season":"autumn","source":"obs","occ":24,"km":1.36},{"season":"autumn","source":"obs","occ":21,"km":0.97},{"season":"autumn","source":"obs","occ":20,"km":0.58},{"season":"autumn","source":"obs","occ":19,"km":0.1},
{"season":"winter","source":"model","occ":0.2,"km":12.5},{"season":"winter","source":"model","occ":1.7,"km":11.55},{"season":"winter","source":"model","occ":4.8,"km":10.9},{"season":"winter","source":"model","occ":9.8,"km":10.45},{"season":"winter","source":"model","occ":16.9,"km":9.7},{"season":"winter","source":"model","occ":22,"km":9.2},{"season":"winter","source":"model","occ":27.1,"km":8.8},{"season":"winter","source":"model","occ":27.6,"km":8.1},{"season":"winter","source":"model","occ":29.1,"km":7.2},{"season":"winter","source":"model","occ":31.1,"km":6.4},{"season":"winter","source":"model","occ":30.1,"km":5.6},{"season":"winter","source":"model","occ":27.1,"km":4.8},{"season":"winter","source":"model","occ":24,"km":4.35},{"season":"winter","source":"model","occ":22.5,"km":3.9},{"season":"winter","source":"model","occ":21,"km":3.25},{"season":"winter","source":"model","occ":22.5,"km":2.46},{"season":"winter","source":"model","occ":26,"km":2.0},{"season":"winter","source":"model","occ":32.1,"km":1.52},{"season":"winter","source":"model","occ":39.2,"km":1.05},{"season":"winter","source":"model","occ":44.3,"km":0.58},{"season":"winter","source":"model","occ":42.2,"km":0.42},{"season":"winter","source":"model","occ":32.1,"km":0.27},{"season":"winter","source":"model","occ":22,"km":0.11},{"season":"winter","source":"model","occ":14.9,"km":0.03},
{"season":"winter","source":"obs","occ":0.2,"km":12.5},{"season":"winter","source":"obs","occ":1.7,"km":11.55},{"season":"winter","source":"obs","occ":5.8,"km":11.1},{"season":"winter","source":"obs","occ":13.9,"km":10.6},{"season":"winter","source":"obs","occ":22,"km":10.0},{"season":"winter","source":"obs","occ":28.1,"km":9.35},{"season":"winter","source":"obs","occ":32.1,"km":8.6},{"season":"winter","source":"obs","occ":37.2,"km":7.8},{"season":"winter","source":"obs","occ":41.2,"km":7.3},{"season":"winter","source":"obs","occ":43.3,"km":6.85},{"season":"winter","source":"obs","occ":43.8,"km":6.2},{"season":"winter","source":"obs","occ":43.8,"km":5.75},{"season":"winter","source":"obs","occ":40.2,"km":5.3},{"season":"winter","source":"obs","occ":38.2,"km":4.65},{"season":"winter","source":"obs","occ":37.7,"km":3.4},{"season":"winter","source":"obs","occ":38.2,"km":2.46},{"season":"winter","source":"obs","occ":40.2,"km":1.83},{"season":"winter","source":"obs","occ":46.3,"km":1.2},{"season":"winter","source":"obs","occ":48.8,"km":0.74},{"season":"winter","source":"obs","occ":47.3,"km":0.5},{"season":"winter","source":"obs","occ":42.2,"km":0.34},{"season":"winter","source":"obs","occ":32.1,"km":0.19},{"season":"winter","source":"obs","occ":22,"km":0.11},{"season":"winter","source":"obs","occ":16.9,"km":0.03}
],
"p8":[
{"season":"summer","source":"model","occ":0.3,"km":13.4},{"season":"summer","source":"model","occ":0.8,"km":12.5},{"season":"summer","source":"model","occ":4.4,"km":12.2},{"season":"summer","source":"model","occ":10.5,"km":11.7},{"season":"summer","source":"model","occ":15.5,"km":11.2},{"season":"summer","source":"model","occ":20.6,"km":10.9},{"season":"summer","source":"model","occ":25.7,"km":10.6},{"season":"summer","source":"model","occ":29.2,"km":9.7},{"season":"summer","source":"model","occ":27.7,"km":9.0},{"season":"summer","source":"model","occ":25.7,"km":8.4},{"season":"summer","source":"model","occ":22.6,"km":7.5},{"season":"summer","source":"model","occ":19.6,"km":6.7},{"season":"summer","source":"model","occ":16.5,"km":6.1},{"season":"summer","source":"model","occ":13.5,"km":5.4},{"season":"summer","source":"model","occ":12.5,"km":5.0},{"season":"summer","source":"model","occ":12.5,"km":3.7},{"season":"summer","source":"model","occ":13.5,"km":2.8},{"season":"summer","source":"model","occ":14.5,"km":2.0},{"season":"summer","source":"model","occ":20.6,"km":1.68},{"season":"summer","source":"model","occ":25.7,"km":1.29},{"season":"summer","source":"model","occ":23.7,"km":0.97},{"season":"summer","source":"model","occ":18.6,"km":0.74},{"season":"summer","source":"model","occ":12.5,"km":0.58},{"season":"summer","source":"model","occ":9.4,"km":0.34},{"season":"summer","source":"model","occ":6.4,"km":0.19},{"season":"summer","source":"model","occ":2.3,"km":0.03},
{"season":"summer","source":"obs","occ":1.3,"km":12.5},{"season":"summer","source":"obs","occ":5.4,"km":12.1},{"season":"summer","source":"obs","occ":12.5,"km":11.55},{"season":"summer","source":"obs","occ":19.6,"km":10.9},{"season":"summer","source":"obs","occ":26.7,"km":10.6},{"season":"summer","source":"obs","occ":32.8,"km":10.1},{"season":"summer","source":"obs","occ":36.9,"km":9.7},{"season":"summer","source":"obs","occ":38.9,"km":9.0},{"season":"summer","source":"obs","occ":40.9,"km":8.6},{"season":"summer","source":"obs","occ":40.4,"km":7.95},{"season":"summer","source":"obs","occ":37.9,"km":7.5},{"season":"summer","source":"obs","occ":32.8,"km":6.85},{"season":"summer","source":"obs","occ":28.7,"km":6.4},{"season":"summer","source":"obs","occ":25.7,"km":5.9},{"season":"summer","source":"obs","occ":24.2,"km":5.3},{"season":"summer","source":"obs","occ":23.1,"km":4.65},{"season":"summer","source":"obs","occ":21.6,"km":4.0},{"season":"summer","source":"obs","occ":20.6,"km":3.4},{"season":"summer","source":"obs","occ":22.6,"km":2.9},{"season":"summer","source":"obs","occ":26.7,"km":2.46},{"season":"summer","source":"obs","occ":32.8,"km":2.0},{"season":"summer","source":"obs","occ":36.9,"km":1.6},{"season":"summer","source":"obs","occ":35.8,"km":1.05},{"season":"summer","source":"obs","occ":27.7,"km":0.82},{"season":"summer","source":"obs","occ":17.6,"km":0.58},{"season":"summer","source":"obs","occ":10.5,"km":0.34},{"season":"summer","source":"obs","occ":2.3,"km":0.1},
{"season":"spring","source":"model","occ":0.8,"km":12.3},{"season":"spring","source":"model","occ":1.3,"km":11.55},{"season":"spring","source":"model","occ":5.4,"km":11.2},{"season":"spring","source":"model","occ":12.5,"km":10.8},{"season":"spring","source":"model","occ":19.6,"km":10.3},{"season":"spring","source":"model","occ":26.7,"km":9.8},{"season":"spring","source":"model","occ":30.8,"km":9.35},{"season":"spring","source":"model","occ":33.3,"km":8.7},{"season":"spring","source":"model","occ":34.8,"km":7.95},{"season":"spring","source":"model","occ":35.8,"km":7.3},{"season":"spring","source":"model","occ":32.8,"km":6.5},{"season":"spring","source":"model","occ":29.7,"km":5.9},{"season":"spring","source":"model","occ":26.7,"km":5.3},{"season":"spring","source":"model","occ":24.2,"km":4.65},{"season":"spring","source":"model","occ":23.1,"km":4.0},{"season":"spring","source":"model","occ":23.1,"km":3.25},{"season":"spring","source":"model","occ":24.7,"km":2.8},{"season":"spring","source":"model","occ":27.2,"km":2.46},{"season":"spring","source":"model","occ":27.7,"km":2.0},{"season":"spring","source":"model","occ":26.7,"km":1.68},{"season":"spring","source":"model","occ":30.8,"km":1.36},{"season":"spring","source":"model","occ":31.8,"km":1.05},{"season":"spring","source":"model","occ":25.7,"km":0.74},{"season":"spring","source":"model","occ":17.6,"km":0.5},{"season":"spring","source":"model","occ":9.4,"km":0.27},{"season":"spring","source":"model","occ":2.3,"km":0.06},
{"season":"spring","source":"obs","occ":0.8,"km":12.3},{"season":"spring","source":"obs","occ":3.4,"km":11.55},{"season":"spring","source":"obs","occ":7.4,"km":11.1},{"season":"spring","source":"obs","occ":10.5,"km":10.8},{"season":"spring","source":"obs","occ":17.6,"km":10.3},{"season":"spring","source":"obs","occ":25.7,"km":9.8},{"season":"spring","source":"obs","occ":30.8,"km":9.5},{"season":"spring","source":"obs","occ":34.3,"km":8.9},{"season":"spring","source":"obs","occ":37.4,"km":8.1},{"season":"spring","source":"obs","occ":36.9,"km":7.5},{"season":"spring","source":"obs","occ":35.8,"km":6.85},{"season":"spring","source":"obs","occ":34.3,"km":6.2},{"season":"spring","source":"obs","occ":31.8,"km":5.6},{"season":"spring","source":"obs","occ":28.7,"km":4.8},{"season":"spring","source":"obs","occ":27.2,"km":4.0},{"season":"spring","source":"obs","occ":26.2,"km":3.25},{"season":"spring","source":"obs","occ":25.7,"km":2.6},{"season":"spring","source":"obs","occ":27.2,"km":2.15},{"season":"spring","source":"obs","occ":30.3,"km":1.52},{"season":"spring","source":"obs","occ":32.3,"km":0.97},{"season":"spring","source":"obs","occ":24.7,"km":0.74},{"season":"spring","source":"obs","occ":14.5,"km":0.42},{"season":"spring","source":"obs","occ":5.4,"km":0.19},{"season":"spring","source":"obs","occ":1.3,"km":0.06}
]
}
}
